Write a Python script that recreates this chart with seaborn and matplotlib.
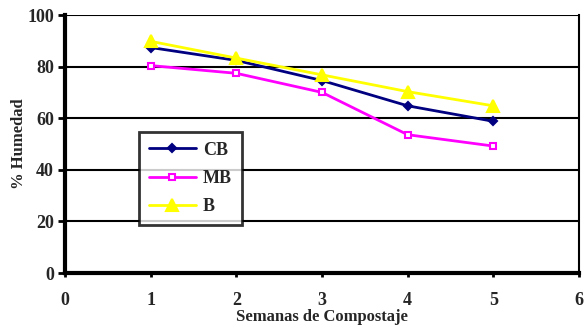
import matplotlib
matplotlib.use("Agg")
import matplotlib.pyplot as plt
import seaborn as sns
import pandas as pd

semanas = [1, 2, 3, 4, 5]
cb = [87.4, 82.4, 74.6, 64.8, 58.8]
mb = [80.4, 77.4, 70.0, 53.6, 49.2]
b = [89.8, 83.3, 76.8, 70.3, 64.8]

series = ["CB", "MB", "B"]
colores = {"CB": "#000080", "MB": "#FF00FF", "B": "#FFFF00"}
marcadores = {"CB": "D", "MB": "s", "B": "^"}

df = pd.DataFrame({
    "semana": semanas * 3,
    "humedad": cb + mb + b,
    "serie": ["CB"] * 5 + ["MB"] * 5 + ["B"] * 5,
})

sns.set_style("white")
plt.rcParams["font.family"] = ["Liberation Serif", "DejaVu Serif"]
plt.rcParams["font.weight"] = "bold"

fig = plt.figure(figsize=(5.84, 3.33), dpi=100)
ax = fig.add_axes([65 / 584, 60 / 333, 514 / 584, 258 / 333])

for y in [20, 40, 60, 80, 100]:
    ax.axhline(y, color="black", lw=1.5, zorder=1)

for s in series:
    sub = df[df["serie"] == s]
    face = "white" if s == "MB" else colores[s]
    size = {"CB": 4.5, "MB": 4.5, "B": 9}[s]
    sns.lineplot(data=sub, x="semana", y="humedad", ax=ax, color=colores[s],
                 marker=marcadores[s], markersize=size, markerfacecolor=face,
                 markeredgecolor=colores[s], markeredgewidth=1.5, lw=2,
                 label=s, zorder=3)

ax.set_xlim(0, 6)
ax.set_ylim(0, 100)
ax.set_xticks(range(0, 7))
ax.set_yticks(range(0, 101, 20))
ax.tick_params(axis="both", labelsize=13, direction="out", length=5, width=2,
               color="black", left=True, bottom=True)
ax.tick_params(axis="x", pad=11, length=3)
ax.tick_params(axis="y", pad=3)
for lbl in ax.get_xticklabels() + ax.get_yticklabels():
    lbl.set_fontweight("bold")

ax.set_xlabel("Semanas de Compostaje", fontsize=12, fontweight="bold", labelpad=0)
ax.set_ylabel("% Humedad", fontsize=12, fontweight="bold", labelpad=0)

for side in ["left", "bottom"]:
    ax.spines[side].set_linewidth(3)
    ax.spines[side].set_color("black")
ax.spines["right"].set_linewidth(1.5)
ax.spines["right"].set_color("black")
ax.spines["top"].set_visible(False)

leg = ax.legend(loc="upper left", bbox_to_anchor=(0.144, 0.547), frameon=True,
                fancybox=False, edgecolor="black", fontsize=13, handlelength=2.6,
                borderpad=0.55, labelspacing=0.62, handletextpad=0.4,
                borderaxespad=0)
leg.get_frame().set_linewidth(2)
for t in leg.get_texts():
    t.set_fontweight("bold")

fig.savefig("out.png", dpi=100)
